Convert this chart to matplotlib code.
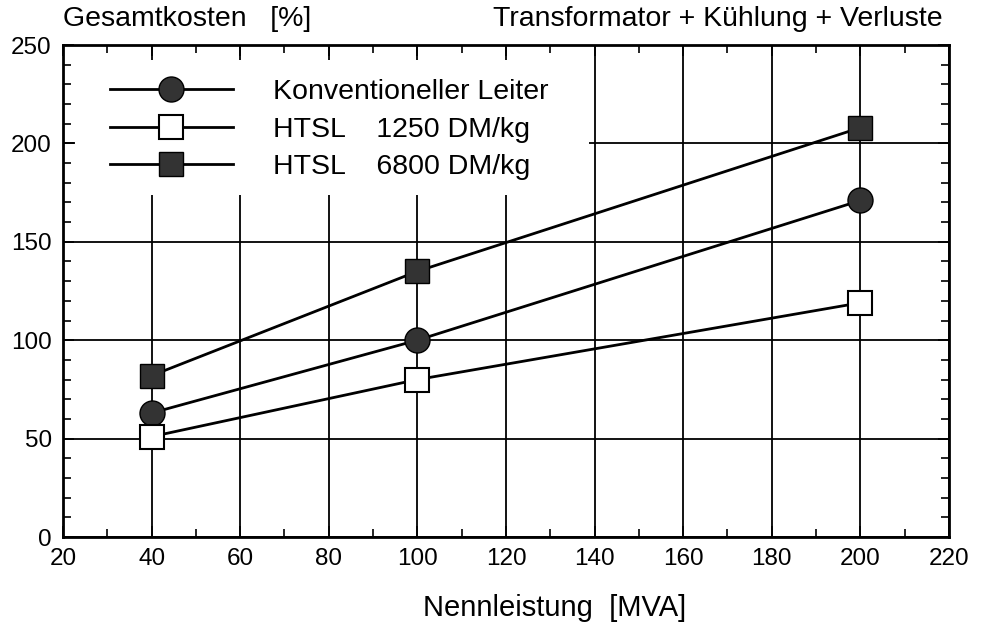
import matplotlib
matplotlib.use("Agg")
import matplotlib.pyplot as plt
from matplotlib.patches import Rectangle
from matplotlib.ticker import MultipleLocator

plt.rcParams['font.family'] = ['Liberation Sans', 'DejaVu Sans']

leistung = [40, 100, 200]
konventionell = [63, 100, 171]
htsl_1250 = [51, 80, 119]
htsl_6800 = [82, 135, 208]

labels = ["Konventioneller Leiter", "HTSL    1250 DM/kg", "HTSL    6800 DM/kg"]

fig = plt.figure(figsize=(9.87, 6.25), dpi=100)
ax = fig.add_axes([0.0638, 0.1408, 0.8977, 0.7872])

ax.set_xlim(20, 220)
ax.set_ylim(0, 250)
ax.xaxis.set_major_locator(MultipleLocator(20))
ax.xaxis.set_minor_locator(MultipleLocator(10))
ax.yaxis.set_major_locator(MultipleLocator(50))
ax.yaxis.set_minor_locator(MultipleLocator(10))

ax.set_axisbelow(True)
ax.grid(True, which='major', color='black', linewidth=1.3)
ax.tick_params(which='both', direction='in', top=True, right=True,
               labelsize=17.5, width=1.2)
ax.tick_params(which='major', length=8, pad=8)
ax.tick_params(which='minor', length=6)
for s in ax.spines.values():
    s.set_linewidth(2)

# white area behind the legend hides the grid there
ax.add_patch(Rectangle((0.014, 0.695), 0.58, 0.275, transform=ax.transAxes,
                       facecolor='white', edgecolor='none', zorder=1))

ax.plot(leistung, konventionell, '-o', color='black', lw=2,
        ms=18, mfc='#333333', mec='black', label=labels[0], zorder=3)
ax.plot(leistung, htsl_1250, '-s', color='black', lw=2,
        ms=17, mfc='white', mec='black', mew=1.5, label=labels[1], zorder=3)
ax.plot(leistung, htsl_6800, '-s', color='black', lw=2,
        ms=17, mfc='#333333', mec='black', label=labels[2], zorder=3)

leg = ax.legend(loc='upper left', bbox_to_anchor=(0.0365, 0.96), frameon=False,
                fontsize=20.5, handlelength=4.35, handletextpad=1.4,
                labelspacing=0.41, borderpad=0, numpoints=1)

ax.set_xlabel("Nennleistung  [MVA]", fontsize=21)
ax.xaxis.set_label_coords(0.555, -0.115)

fig.text(0.064, 0.958, "Gesamtkosten   [%]", fontsize=20.5, ha='left', va='baseline')
fig.text(0.955, 0.958, "Transformator + Kühlung + Verluste", fontsize=20.5,
         ha='right', va='baseline')

fig.savefig("out.png", dpi=100)
